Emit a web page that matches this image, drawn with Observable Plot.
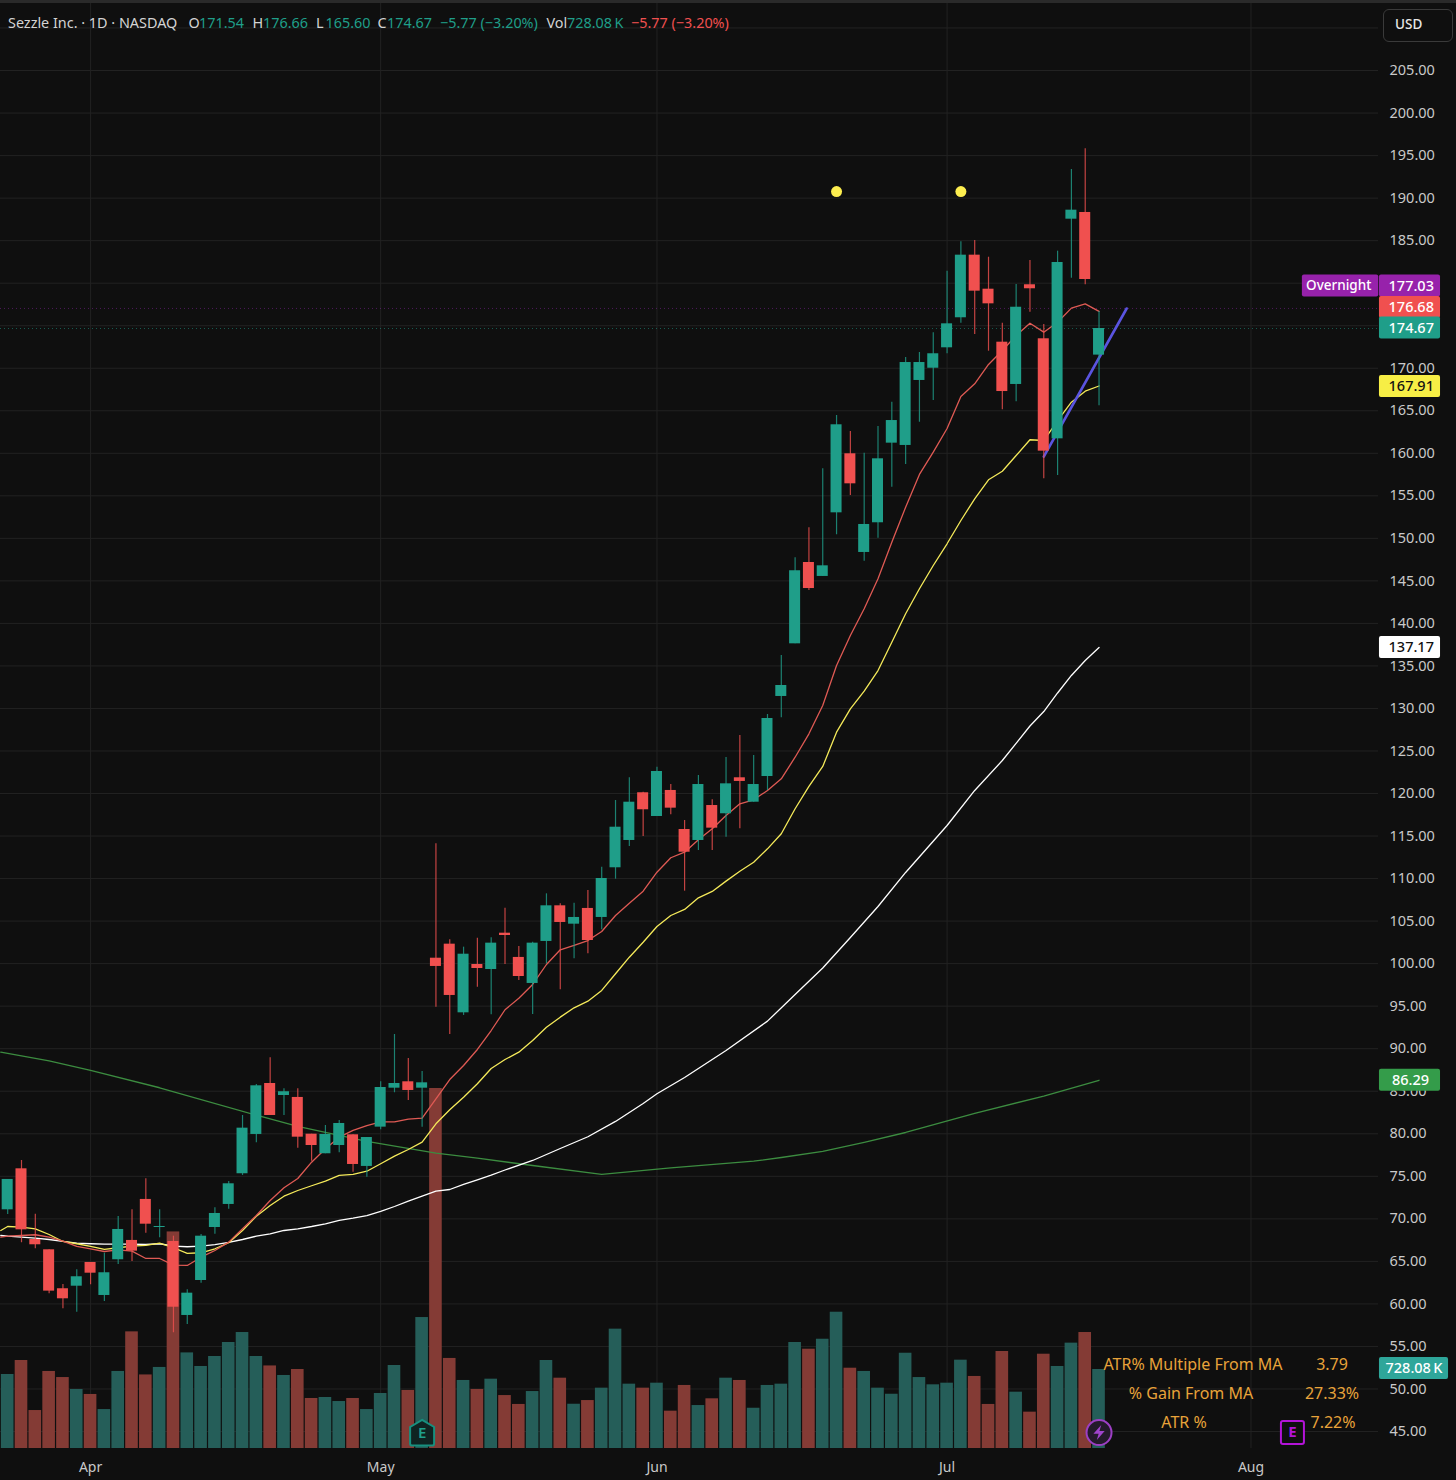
<!DOCTYPE html>
<html>
<head>
<meta charset="utf-8">
<script src="https://cdn.jsdelivr.net/npm/d3@7"></script>
<script src="https://cdn.jsdelivr.net/npm/@observablehq/plot@0.6"></script>
<style>
html,body{margin:0;padding:0;background:#0f0f0f;}
#wrap{position:relative;width:1456px;height:1480px;overflow:hidden;font-family:"Noto Sans",sans-serif;}
#wrap svg{display:block;}
.abs{position:absolute;white-space:nowrap;}
#topband{position:absolute;left:0;top:0;width:1456px;height:3px;background:#2a2a2a;}
#usd{position:absolute;left:1383px;top:9px;width:68px;height:31px;border:1px solid #3a3a3a;border-radius:6px;color:#e8e8e8;font-size:13.5px;line-height:29px;text-indent:11px;font-weight:500;box-sizing:content-box;}
.hdr{font-size:14.4px;top:14px;line-height:18px;}
.atr{font-size:16px;color:#e8a33a;line-height:20px;transform:translate(-50%,-50%);}
</style>
</head>
<body>
<div id="wrap"></div>
<script>
const opens = [71.06,75.88,67.57,66.36,61.78,62.08,64.87,60.99,65.19,67.46,72.28,68.98,67.34,58.64,62.75,68.98,71.69,75.30,79.92,85.91,84.50,84.27,79.95,77.65,78.62,79.88,76.16,80.78,85.36,86.11,85.36,100.64,102.29,94.22,99.90,99.31,103.58,100.73,97.67,102.61,106.80,104.64,106.49,105.43,111.27,114.48,120.09,117.30,120.36,115.77,114.48,118.59,117.62,121.85,118.98,122.00,131.41,137.60,147.16,145.52,153.00,159.94,148.34,151.83,161.19,160.92,168.56,170.00,172.40,175.93,183.29,179.29,173.06,168.09,179.81,173.46,161.70,187.52,188.31,171.54];
const highs = [74.63,76.86,70.55,66.36,62.28,64.01,64.87,65.96,70.28,71.06,74.71,71.06,67.96,61.66,68.16,71.30,74.39,82.15,85.79,88.93,85.29,85.29,79.95,80.97,81.56,79.88,79.56,86.11,91.67,88.85,87.32,114.09,102.81,101.94,102.99,103.04,106.52,102.02,102.52,108.21,107.04,107.11,108.60,111.34,119.18,121.85,120.16,123.10,121.06,116.83,122.12,119.26,124.23,126.82,124.47,129.29,136.23,147.71,151.24,158.18,164.44,162.56,160.01,163.15,166.01,171.26,171.85,174.16,181.41,184.86,185.02,183.05,175.29,179.84,182.66,175.14,183.76,193.36,195.80,176.66];
const lows = [70.51,67.19,66.48,61.19,59.43,59.03,62.25,60.28,64.63,64.99,68.31,67.77,56.61,57.58,62.44,68.20,71.14,75.10,78.94,82.15,82.15,78.31,76.78,77.65,77.77,75.49,74.90,80.47,84.82,83.91,80.78,94.88,91.67,93.91,97.23,93.99,99.90,98.02,94.02,99.98,96.93,100.57,101.16,103.98,109.93,113.77,114.95,117.30,117.50,108.52,113.30,113.30,114.87,115.85,118.98,120.36,128.90,137.60,143.87,145.52,150.42,155.04,147.31,150.02,156.01,158.68,163.65,166.21,171.70,175.29,173.97,172.00,165.11,166.05,176.59,157.00,157.39,180.58,179.81,165.60];
const closes = [74.63,68.71,66.95,61.50,60.60,63.19,63.61,63.66,68.75,66.20,69.37,69.10,59.61,61.26,67.96,70.63,74.12,80.66,85.64,82.15,84.94,79.60,78.62,79.92,81.21,76.39,79.56,85.44,85.91,85.09,85.99,99.67,96.26,101.11,99.43,102.41,103.31,98.49,102.41,106.80,104.84,105.43,102.72,110.01,116.04,118.98,118.09,122.59,118.28,113.10,121.06,115.93,121.14,121.42,121.06,128.82,132.70,146.19,144.10,146.77,163.35,156.41,151.63,159.35,163.85,170.67,170.67,171.70,175.22,183.29,179.06,177.57,167.26,177.17,179.34,160.25,182.43,188.58,180.43,174.67];
const volumesK = [682,811,350,710,654,544,498,359,710,1075,678,747,1996,881,756,848,977,1069,848,761,673,728,461,470,433,461,359,507,765,535,1207,3318,830,627,544,639,488,406,525,811,648,408,442,556,1100,593,556,602,344,581,396,458,648,627,371,581,593,977,915,1007,1256,740,710,556,500,878,654,587,602,814,664,406,894,519,335,869,756,971,1069,728.08];

const denseIndex = [-0.5, ...d3.range(80)];
const ema10 = [67.84,67.96,68.04,68.13,67.84,67.37,66.75,66.48,66.16,66.36,66.20,65.34,65.34,64.55,64.52,65.49,66.28,67.26,68.83,70.39,72.16,73.65,74.74,76.66,78.24,79.60,80.39,80.97,81.41,81.41,81.72,81.83,84.11,86.38,88.03,89.91,92.14,94.58,95.94,97.55,99.90,101.63,102.14,102.72,103.78,105.66,107.11,108.52,110.75,112.45,113.10,114.56,115.85,117.42,118.79,119.26,120.36,121.73,124.27,127.02,130.35,135.05,138.58,141.72,145.24,149.55,153.66,157.51,160.13,162.91,166.68,168.17,170.44,172.08,173.85,175.29,174.24,175.41,177.06,177.57,176.68];
const ema20 = [68.63,69.10,69.02,68.83,68.16,67.34,67.07,66.75,66.40,66.60,66.79,66.87,67.14,66.60,65.93,66.01,66.48,67.19,68.63,70.31,71.57,72.66,73.33,73.89,74.43,75.10,75.22,75.60,76.47,77.37,78.15,79.01,81.17,82.82,84.30,85.88,87.68,88.73,89.59,90.97,92.53,93.71,94.81,95.59,96.85,98.81,100.76,102.52,104.37,105.66,106.37,107.74,108.49,109.70,110.87,111.93,113.50,115.27,118.21,120.83,123.18,127.21,129.96,132.03,134.46,137.79,141.13,144.07,146.81,149.36,152.10,154.65,156.88,157.89,159.74,161.59,161.50,163.85,166.01,167.30,167.91];

const sma50Index = [-0.5,...d3.range(35),35,36,38,40,42,44,46,47,49,52,55,57,59,61,63,65,68,70,72,74,75,76,77,78,79];
const sma50 = [68.04,67.96,67.84,67.73,67.57,67.34,67.14,67.07,67.02,67.02,67.02,66.98,67.07,66.79,66.72,66.79,66.98,67.23,67.57,67.96,68.24,68.63,68.83,69.10,69.42,69.81,70.08,70.39,70.87,71.45,72.08,72.66,73.25,73.45,74.04,74.59,75.13,75.74,76.86,78.27,79.65,81.45,83.56,84.70,86.62,89.79,93.24,96.38,99.49,103.08,106.72,110.72,116.24,120.36,123.88,127.94,129.64,131.82,133.88,135.64,137.17];
const sma200Index = [-0.5,3,6,11,18,21,26,31,34,38,43,48,54,56,59,62,65,70,75,79];
const sma200 = [89.59,88.58,87.44,85.41,82.18,80.86,79.10,77.73,77.13,76.27,75.22,76.00,76.78,77.21,77.92,78.98,80.15,82.39,84.44,86.29];

const trendIndex = [75, 81];
const trendPrice = [159.62, 177.02];
const markerIndex = [60, 69];
const markerPrice = [190.77, 190.77];

const priceTicks = d3.range(45, 210, 5).filter(v => v !== 175 && v !== 180);
const gridTicks = d3.range(45, 215, 5);
const monthTicks = [6, 27, 47, 68, 90];
const monthLabels = ["Apr", "May", "Jun", "Jul", "Aug"];

const overnightPrice = 177.03, lastPrice = 174.67;

const UP = "#1f9e89", DOWN = "#f0504f", VUP = "#255e59", VDOWN = "#843b35";
const volumeBase = 43.0, priceUnitsPerK = 0.012756;
const volY = k => volumeBase + k * priceUnitsPerK;

const candles = opens.map((o, i) => ({i, o, h: highs[i], l: lows[i], c: closes[i], v: volumesK[i], up: closes[i] >= o}));

const candleMarks = (rows, color, vcolor) => ({
  vol: Plot.rect(rows, {x1: d => d.i - 0.5, x2: d => d.i + 0.5, y1: volumeBase, y2: d => volY(d.v), fill: vcolor, insetLeft: 0.6, insetRight: 0.6}),
  wick: Plot.ruleX(rows, {x: "i", y1: "l", y2: "h", stroke: color, strokeWidth: 1.2, strokeOpacity: 0.8}),
  body: Plot.rect(rows, {x1: d => d.i - 0.5, x2: d => d.i + 0.5, y1: "o", y2: "c", fill: color, insetLeft: 1.4, insetRight: 1.4})
});
const ups = candleMarks(candles.filter(d => d.up), UP, VUP);
const downs = candleMarks(candles.filter(d => !d.up), DOWN, VDOWN);

const line = (xs, ys, stroke, strokeWidth = 1.3) =>
  Plot.line(xs.map((x, i) => ({x, y: ys[i]})), {x: "x", y: "y", stroke, strokeWidth});

/* price tags on the right scale; dy is the stacking shift */
const AX0 = 99.3, AX1 = 103.72, AX2 = 104.3, AXM = 101.6;
const tag = (value, text, fill, color, dy, x1 = AX0, x2 = AX1, tx = AXM, fontSize = 14.5) => [
  Plot.rect([value], {x1, x2, y1: d => d, y2: d => d, insetTop: -11, insetBottom: -11, fill, rx: 2, dy}),
  Plot.text([value], {x: tx, y: d => d, text: () => text, fill: color, dy, fontSize, fontWeight: 500, fontFamily: "Noto Sans"})
];

/* custom badge symbols */
const house = {draw(c, size) {const r = Math.sqrt(size / Math.PI);
  c.moveTo(0, -r * 1.15); c.lineTo(r, -r * 0.55); c.lineTo(r, r * 0.85); c.quadraticCurveTo(r, r * 1, r * 0.85, r); c.lineTo(-r * 0.85, r); c.quadraticCurveTo(-r, r, -r, r * 0.85); c.lineTo(-r, -r * 0.55); c.closePath();}};
const roundSquare = {draw(c, size) {const r = Math.sqrt(size / Math.PI), k = 2;
  c.moveTo(-r + k, -r); c.lineTo(r - k, -r); c.quadraticCurveTo(r, -r, r, -r + k); c.lineTo(r, r - k); c.quadraticCurveTo(r, r, r - k, r); c.lineTo(-r + k, r); c.quadraticCurveTo(-r, r, -r, r - k); c.lineTo(-r, -r + k); c.quadraticCurveTo(-r, -r, -r + k, -r); c.closePath();}};
const bolt = {draw(c, size) {const r = Math.sqrt(size / Math.PI);
  c.moveTo(r * 0.3, -r); c.lineTo(-r * 0.75, r * 0.15); c.lineTo(-r * 0.05, r * 0.15); c.lineTo(-r * 0.3, r); c.lineTo(r * 0.75, -r * 0.2); c.lineTo(r * 0.05, -r * 0.2); c.closePath();}};

const earningsIndex = 30, earningsPrice = 44.75;
const flashIndex = 79, flashPrice = 44.88;
const futureIndex = 93, futurePrice = 44.88;

const plot = Plot.plot({
  width: 1456, height: 1480,
  marginTop: 0, marginBottom: 32, marginLeft: 0, marginRight: 78,
  x: {domain: [-0.52, 99.23], label: null},
  y: {domain: [volumeBase, 213.23], label: null},
  style: {background: "#0f0f0f", fontFamily: "Noto Sans"},
  marks: [
    Plot.ruleY(gridTicks, {stroke: "#222222", strokeWidth: 1}),
    Plot.ruleX(monthTicks, {stroke: "#222222", strokeWidth: 1}),
    ups.vol, downs.vol,
    Plot.ruleY([overnightPrice], {stroke: "#8e24aa", strokeDasharray: "1,3", strokeOpacity: 0.5}),
    Plot.ruleY([lastPrice], {stroke: UP, strokeDasharray: "1,3", strokeOpacity: 0.55}),
    line(sma200Index, sma200, "#3c8c40"),
    line(sma50Index, sma50, "#ffffff"),
    line(denseIndex, ema20, "#f5ea5a"),
    line(denseIndex, ema10, "#df5a54"),
    line(trendIndex, trendPrice, "#5a54e0", 2.6),
    ups.wick, downs.wick, ups.body, downs.body,
    Plot.dot(markerIndex.map((x, i) => ({x, y: markerPrice[i]})), {x: "x", y: "y", r: 5.5, fill: "#fdee4f"}),

    Plot.dot([earningsIndex], {x: d => d, y: earningsPrice, r: 12, symbol: house, fill: "#0f2422", stroke: "#17907f", strokeWidth: 2}),
    Plot.text(["E"], {x: earningsIndex, y: earningsPrice, fill: "#1fa08c", fontSize: 15, fontWeight: 600}),
    Plot.dot([flashIndex], {x: d => d, y: flashPrice, r: 12.5, fill: "#241a2b", stroke: "#9c3fc4", strokeWidth: 2}),
    Plot.dot([flashIndex], {x: d => d, y: flashPrice, r: 7.5, symbol: bolt, fill: "#a044cc"}),
    Plot.dot([futureIndex], {x: d => d, y: futurePrice, r: 11.5, symbol: roundSquare, fill: "#0f0f0f", stroke: "#b314d8", strokeWidth: 2}),
    Plot.text(["E"], {x: futureIndex, y: futurePrice, fill: "#b314d8", fontSize: 15, fontWeight: 700}),

    Plot.axisY({anchor: "right", ticks: priceTicks, tickFormat: d3.format(".2f"), tickSize: 0, tickPadding: 11, label: null, fontSize: 14.5, color: "#c9c9c9", fontFamily: "Noto Sans"}),
    Plot.axisX({anchor: "bottom", ticks: monthTicks, tickFormat: d => monthLabels[monthTicks.indexOf(d)], tickSize: 0, tickPadding: 14, label: null, fontSize: 14, color: "#c9c9c9", fontFamily: "Noto Sans"}),

    tag(overnightPrice, "Overnight", "#9722ab", "#ffffff", -22.5, 93.72, 99.25, 96.35, 13.5),
    tag(overnightPrice, "177.03", "#9722ab", "#ffffff", -22.5),
    tag(176.68, "176.68", DOWN, "#ffffff", -3.9),
    tag(174.67, "174.67", UP, "#ffffff", -0.5),
    tag(167.91, "167.91", "#f7ee45", "#111111", 0.5),
    tag(137.17, "137.17", "#ffffff", "#111111", 0),
    tag(86.29, "86.29", "#349c4a", "#ffffff", 0, AX0, AX1, 101.55),
    tag(volY(728.08), "728.08\u2009K", "#2ea69a", "#ffffff", -1, AX0, AX2, 101.8)
  ]
});

const wrap = document.getElementById("wrap");
wrap.appendChild(plot);

const band = document.createElement("div"); band.id = "topband"; wrap.appendChild(band);
const usd = document.createElement("div"); usd.id = "usd"; usd.textContent = "USD"; wrap.appendChild(usd);

const headerParts = [
  ["Sezzle Inc. · 1D · NASDAQ", 8, "#d4d4d4"],
  ["O", 188.5, "#d4d4d4"], ["171.54", 199, UP],
  ["H", 252.5, "#d4d4d4"], ["176.66", 263, UP],
  ["L", 316, "#d4d4d4"], ["165.60", 325.5, UP],
  ["C", 377.5, "#d4d4d4"], ["174.67", 387, UP],
  ["−5.77 (−3.20%)", 440, UP],
  ["Vol", 546.5, "#d4d4d4"], ["728.08\u2009K", 567, UP],
  ["−5.77 (−3.20%)", 631, DOWN]
];
for (const [t, x, c] of headerParts) {
  const s = document.createElement("div");
  s.className = "abs hdr"; s.style.left = x + "px"; s.style.color = c; s.textContent = t;
  wrap.appendChild(s);
}
const atrRows = [
  ["ATR% Multiple From MA", 1193, "3.79", 1332, 1364],
  ["% Gain From MA", 1191, "27.33%", 1332, 1393],
  ["ATR %", 1184, "7.22%", 1333, 1422]
];
for (const [a, ax, b, bx, y] of atrRows) {
  for (const [t, x] of [[a, ax], [b, bx]]) {
    const s = document.createElement("div");
    s.className = "abs atr"; s.style.left = x + "px"; s.style.top = y + "px"; s.textContent = t;
    wrap.appendChild(s);
  }
}
</script>
</body>
</html>
